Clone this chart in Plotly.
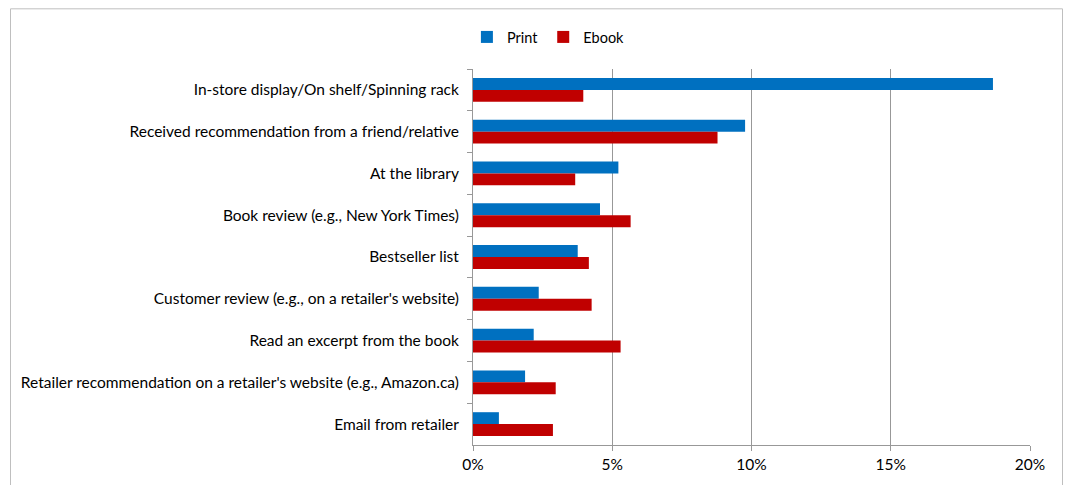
import plotly.graph_objects as go

# Discovery channels, listed top to bottom
categories = [
    "In-store display/On shelf/Spinning rack",
    "Received recommendation from a friend/relative",
    "At the library",
    "Book review (e.g., New York Times)",
    "Bestseller list",
    "Customer review (e.g., on a retailer's website)",
    "Read an excerpt from the book",
    "Retailer recommendation on a retailer's website (e.g., Amazon.ca)",
    "Email from retailer",
]

# Share of respondents (fraction of 1)
print_share = [0.1867, 0.0977, 0.0522, 0.0456, 0.0376, 0.0236, 0.0218, 0.0187, 0.0093]
ebook_share = [0.0396, 0.0878, 0.0367, 0.0566, 0.0416, 0.0426, 0.0530, 0.0297, 0.0287]

x_ticks = [0, 0.05, 0.10, 0.15, 0.20]

FONT = "Lato"
W, H = 1066, 485
L, R, T, B = 473, 36, 69, 38

fig = go.Figure()
fig.add_trace(go.Bar(name="Print", y=categories, x=print_share, orientation="h",
                     marker=dict(color="#0070C0", line=dict(width=0))))
fig.add_trace(go.Bar(name="Ebook", y=categories, x=ebook_share, orientation="h",
                     marker=dict(color="#C00000", line=dict(width=0))))

pw = W - L - R
ph = H - T - B
# light frame around the whole chart
fig.add_shape(type="rect", xref="paper", yref="paper",
              x0=(10.5 - L) / pw, x1=(1062.5 - L) / pw,
              y0=-(B + 20) / ph, y1=1 + (T - 8.5) / ph,
              line=dict(color="#BFBFBF", width=1), fillcolor="rgba(0,0,0,0)",
              layer="below")

fig.update_layout(
    width=W, height=H,
    margin=dict(l=L, r=R, t=T, b=B, pad=0),
    paper_bgcolor="white", plot_bgcolor="white",
    barmode="group", bargap=0.43, bargroupgap=0,
    font=dict(family=FONT, size=15.5, color="#000000"),
    showlegend=True,
    legend=dict(orientation="h", xref="container", yref="container",
                x=0.438, xanchor="left", y=1 - 37 / H, yanchor="middle",
                font=dict(family=FONT, size=14.5), itemwidth=30,
                traceorder="normal", bgcolor="rgba(0,0,0,0)"),
    xaxis=dict(range=[0, 0.20], tickvals=x_ticks, tickformat=".0%",
               showgrid=True, gridcolor="#989898", gridwidth=1,
               showline=True, linecolor="#989898", linewidth=1,
               ticks="outside", ticklen=5, tickcolor="#989898",
               zeroline=False, fixedrange=True),
    yaxis=dict(autorange="reversed", type="category",
               showline=True, linecolor="#989898", linewidth=1,
               ticks="outside", ticklen=5, tickcolor="#989898",
               tickson="boundaries", ticklabelstandoff=10,
               showgrid=False, fixedrange=True),
)

fig.write_html("out.html")
